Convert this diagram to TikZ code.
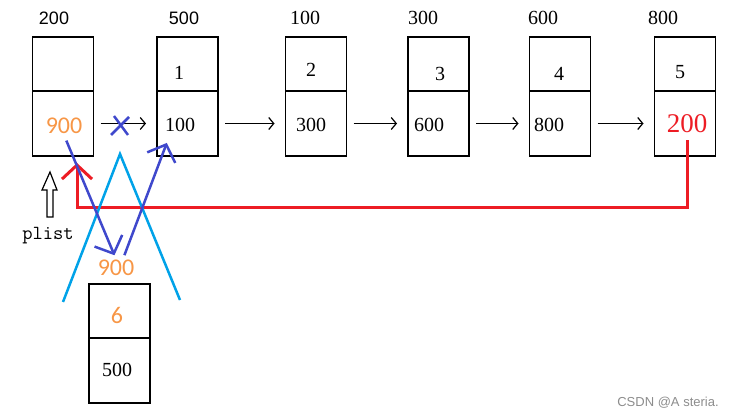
\documentclass[tikz,border=0pt]{standalone}
\usepackage{fontspec}
\usetikzlibrary{arrows.meta,positioning}
\newfontfamily\calfont{Carlito}
\newfontfamily\arialfont{Liberation Sans}
\newfontfamily\timesfont{Liberation Serif}
\definecolor{memorange}{HTML}{F79646}
\definecolor{memred}{HTML}{ED1C24}
\definecolor{memblue}{HTML}{3F48CC}
\definecolor{memcyan}{HTML}{00A2E8}

\begin{document}
\begin{tikzpicture}[x=1pt, y=-1pt, > = {Straight Barb[length=5pt,width=12pt]}]
    \tikzset{
      datacell/.style={draw, line width=1.6pt, minimum width=61pt, minimum height=54pt, outer sep=0pt, inner sep=0pt},
      linkcell/.style={datacell, minimum height=65pt},
      num/.style={font=\timesfont\fontsize{20}{24}\selectfont, inner sep=1pt},
      addr/.style={font=\arialfont\fontsize{18}{22}\selectfont, inner sep=1pt},
      hot/.style={text=memorange, font=\calfont\fontsize{24}{28}\selectfont, inner sep=1pt},
      link/.style={->, line width=1.2pt, shorten <=7pt, shorten >=11pt},
      pen/.style={memblue, line width=2.5pt, -{Straight Barb[length=14pt,width=30pt]}},
    }
    \useasboundingbox (0,0) rectangle (738,419);

    \node[datacell] (d0) at (63,64) {};
    \node[linkcell, below=0pt of d0] (n0) {};
    \node[datacell] (d1) at (187.5,64) {};
    \node[linkcell, below=0pt of d1] (n1) {};
    \node[datacell] (d2) at (316,64) {};
    \node[linkcell, below=0pt of d2] (n2) {};
    \node[datacell] (d3) at (438.5,64) {};
    \node[linkcell, below=0pt of d3] (n3) {};
    \node[datacell] (d4) at (560,64) {};
    \node[linkcell, below=0pt of d4] (n4) {};
    \node[datacell] (d5) at (685,64) {};
    \node[linkcell, below=0pt of d5] (n5) {};
    \node[datacell] (d6) at (119.5,311) {};
    \node[linkcell, below=0pt of d6] (n6) {};

    \node[addr] (a0) at (54,18) {200};
    \node[addr] (a1) at (184,18) {500};
    \node[num] (a2) at (305,18) {100};
    \node[num] (a3) at (423,18) {300};
    \node[num] (a4) at (543,18) {600};
    \node[num] (a5) at (663,18) {800};

    \node[num] (k1) at (179,73) {1};
    \node[num] (k2) at (311,70) {2};
    \node[num] (k3) at (440,74) {3};
    \node[num] (k4) at (559,74) {4};
    \node[num] (k5) at (680,72) {5};
    \node[hot] (k6) at (117,315) {6};

    \node[hot] (v0) at (64,126) {900};
    \node[num] (v1) at (180,125) {100};
    \node[num] (v2) at (311,125) {300};
    \node[num] (v3) at (429,125) {600};
    \node[num] (v4) at (549,125) {800};
    \node[num, text=memred, font=\timesfont\fontsize{27}{30}\selectfont] (v5) at (687,124) {200};
    \node[num] (v6) at (117,370) {500};
    \node[hot] (w) at (116,268) {900};

    \node[font=\ttfamily\fontsize{20}{24}\selectfont] (plist) at (48,236) {plist};
    \node[font=\arialfont\fontsize{13}{16}\selectfont, text=black!45] (mark) at (668,403) {CSDN @A steria.};

    \draw[link] (n0.east) -- (n1.west);
    \draw[link] (n1.east) -- (n2.west);
    \draw[link] (n2.east) -- (n3.west);
    \draw[link] (n3.east) -- (n4.west);
    \draw[link] (n4.east) -- (n5.west);

    \draw[line width=1.2pt] (47,217) -- (47,190) -- (42,190) -- (50,172) -- (57,190) -- (53,190) -- (53,217) -- cycle;

    \coordinate (ret) at (77,163);
    \draw[memred, line width=3pt, -{Straight Barb[length=14pt,width=30pt]}, shorten <=6pt]
      (v5.south) -- (v5.south |- 0,208) -| (ret);

    \draw[memcyan, line width=2.5pt] (63,302) -- (120,154) -- (180,300);
    \draw[memblue, line width=2.5pt] (111,135) -- (129,117) (114,116) -- (128,135);

    \draw[pen, shorten <=6pt, shorten >=4pt] (v0.south) -- (w.north);
    \draw[pen, shorten <=4pt] ([xshift=7pt]w.north) -- ([shift={(3pt,-10pt)}]v1.south west);

  \end{tikzpicture}
\end{document}
